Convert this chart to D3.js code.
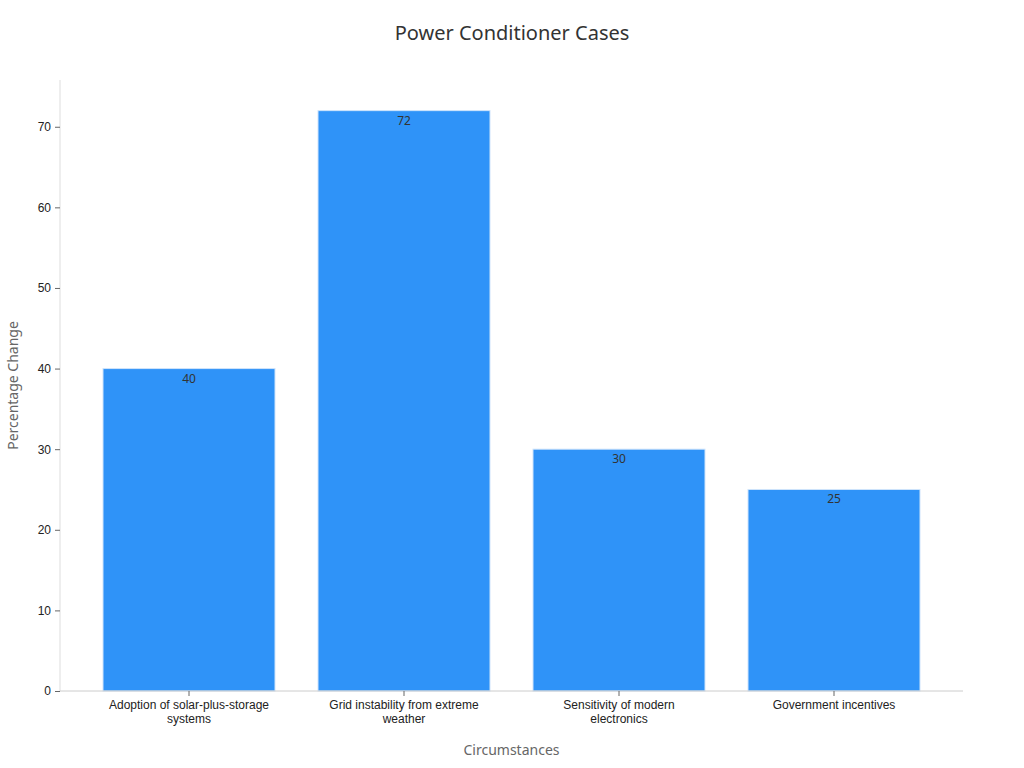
<!DOCTYPE html>
<html>
<head>
<meta charset="utf-8">
<script src="https://cdn.jsdelivr.net/npm/d3@7"></script>
<style>
  body { margin: 0; background: #fff; font-family: "Noto Sans", "DejaVu Sans", sans-serif; }
</style>
</head>
<body>
<svg id="chart" width="1024" height="768"></svg>
<script>
// data
const categories = [
  'Adoption of solar-plus-storage systems',
  'Grid instability from extreme weather',
  'Sensitivity of modern electronics',
  'Government incentives'
];
const values = [40, 72, 30, 25];
const yTicks = [0, 10, 20, 30, 40, 50, 60, 70];

const margin = { top: 80, right: 61, bottom: 77, left: 60 };
const width = 1024 - margin.left - margin.right;
const height = 768 - margin.top - margin.bottom;

const svg = d3.select('#chart');
const g = svg.append('g').attr('transform', `translate(${margin.left},${margin.top})`);

const x = d3.scaleBand().domain(categories).range([0, width]).padding(0.2);
const y = d3.scaleLinear().domain([0, 75.8]).range([height, 0]);

// title
svg.append('text')
  .attr('x', 512).attr('y', 40)
  .attr('text-anchor', 'middle')
  .style('font-size', '20px').style('fill', '#333')
  .text('Power Conditioner Cases');

// bars
g.selectAll('rect.bar')
  .data(values)
  .join('rect')
  .attr('class', 'bar')
  .attr('x', (d, i) => x(categories[i]))
  .attr('y', d => y(d))
  .attr('width', x.bandwidth())
  .attr('height', d => height - y(d))
  .attr('fill', '#2f93f8')
  .attr('stroke', '#cfe4fb')
  .attr('stroke-width', 1);

// value labels
g.selectAll('text.val')
  .data(values)
  .join('text')
  .attr('class', 'val')
  .attr('x', (d, i) => x(categories[i]) + x.bandwidth() / 2)
  .attr('y', d => y(d) + 14)
  .attr('text-anchor', 'middle')
  .style('font-size', '12px').style('fill', '#333')
  .text(d => d);

// y axis
const yAxis = g.append('g')
  .call(d3.axisLeft(y).tickValues(yTicks).tickSize(5).tickPadding(4));
yAxis.select('.domain').attr('stroke', '#ddd').attr('d', `M0,${height}V0`);
yAxis.selectAll('.tick line').attr('stroke', '#666');
yAxis.selectAll('.tick text').style('font-size', '12px').style('fill', '#222');

// x axis
const xAxis = g.append('g')
  .attr('transform', `translate(0,${height})`)
  .call(d3.axisBottom(x).tickSize(5).tickPadding(4));
xAxis.select('.domain').attr('stroke', '#ccc').attr('d', `M0,0H${width}`);
xAxis.selectAll('.tick line').attr('stroke', '#666');
xAxis.selectAll('.tick text')
  .style('font-size', '12px').style('fill', '#222')
  .each(function (d) {
    // wrap long labels to band width
    const t = d3.select(this);
    const words = d.split(' ');
    t.text(null);
    let line = [];
    let tspan = t.append('tspan').attr('x', 0).attr('dy', '0.71em');
    words.forEach(w => {
      line.push(w);
      tspan.text(line.join(' '));
      if (tspan.node().getComputedTextLength() > x.bandwidth() && line.length > 1) {
        line.pop();
        tspan.text(line.join(' '));
        line = [w];
        tspan = t.append('tspan').attr('x', 0).attr('dy', '1.2em').text(w);
      }
    });
  });

// axis titles
svg.append('text')
  .attr('x', margin.left + width / 2).attr('y', 755)
  .attr('text-anchor', 'middle')
  .style('font-size', '14px').style('fill', '#666')
  .text('Circumstances');

svg.append('text')
  .attr('transform', `translate(18,${margin.top + height / 2}) rotate(-90)`)
  .attr('text-anchor', 'middle')
  .style('font-size', '14px').style('fill', '#666')
  .text('Percentage Change');
</script>
</body>
</html>
